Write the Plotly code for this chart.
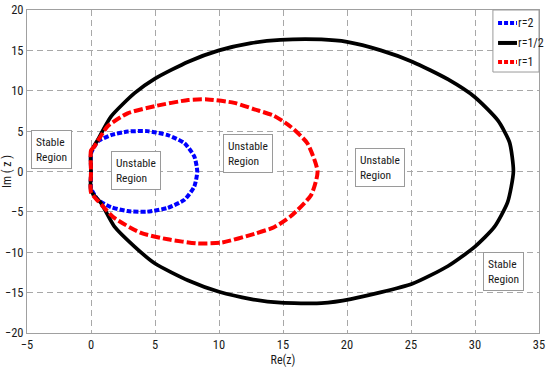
import plotly.graph_objects as go

# r=1/2 (black, solid)
half_x = [0, 0, 0.52, 1.56, 3.4, 5.0, 7.6, 10.0, 12.5, 14.8, 18.0, 20.0, 22.65, 25.1, 27.9, 30.0, 31.8, 32.7, 33.0,
          32.55, 31.5, 30.0, 27.9, 25.1, 20.3, 18.0, 14.8, 12.5, 10.0, 7.6, 5.0, 3.4, 1.82, 0.78, 0, 0]
half_y = [0, 2.4, 3.9, 6.8, 9.7, 11.5, 13.6, 15.0, 15.9, 16.3, 16.35, 16.05, 15.0, 13.6, 11.4, 9.2, 6.3, 3.6, 0.0,
          -3.8, -6.9, -9.3, -11.7, -13.9, -15.8, -16.3, -16.25, -15.8, -14.9, -13.5, -11.4, -9.3, -6.8, -3.9, -2.4, 0]

# r=1 (red, dashed)
one_x = [0, 0, 0.26, 1.3, 2.86, 5.0, 7.6, 9.1, 11.2, 12.76, 14.3, 15.6, 16.9, 17.7,
         17.2, 15.6, 14.3, 12.8, 10.2, 8.3, 6.0, 3.9, 1.82, 0.52, 0, 0]
one_y = [0, 2.6, 3.1, 5.6, 7.2, 8.1, 8.85, 8.93, 8.5, 7.7, 6.9, 5.55, 3.5, 0.0,
         -2.9, -5.55, -6.9, -7.7, -8.8, -8.9, -8.4, -7.6, -5.75, -3.6, -2.6, 0]

# r=2 (blue, dashed)
two_x = [0, 0, 0.13, 0.52, 1.56, 2.86, 4.4, 6.0, 7.3, 8.07, 8.3,
         8.07, 7.3, 6.0, 4.4, 2.86, 1.56, 0.52, 0.13, 0, 0]
two_y = [0, 2.2, 2.7, 3.7, 4.5, 4.94, 5.0, 4.5, 3.5, 1.85, 0.0,
         -1.85, -3.5, -4.5, -4.97, -4.9, -4.4, -3.5, -2.5, -2.2, 0]

series_names = ["r=2", "r=1/2", "r=1"]
series_colors = ["#0000ff", "#000000", "#ff0000"]
series_dash = ["5px,2px", "solid", "9px,3px"]

x_ticks = [-5, 0, 5, 10, 15, 20, 25, 30, 35]
y_ticks = [-20, -15, -10, -5, 0, 5, 10, 15, 20]

labels = ["Stable<br>Region", "Unstable<br>Region", "Unstable<br>Region", "Unstable<br>Region", "Stable<br>Region"]
label_x = [-3.05, 3.55, 12.3, 22.6, 32.2]
label_y = [2.7, 0.1, 2.2, 0.45, -12.4]

FONT = "Roboto Condensed, Liberation Sans Narrow, sans-serif"
TXT = "#1a1a1a"

fig = go.Figure()
data = [(two_x, two_y, 4), (half_x, half_y, 3.7), (one_x, one_y, 4)]
for (xs, ys, w), nm, col, ds in zip(data, series_names, series_colors, series_dash):
    fig.add_trace(go.Scatter(x=xs, y=ys, mode="lines", name=nm, showlegend=False,
                             line=dict(color=col, width=w, dash=ds, shape="spline", smoothing=0.6)))

for t, xx, yy in zip(labels, label_x, label_y):
    fig.add_annotation(x=xx, y=yy, text=t, showarrow=False, align="left",
                       font=dict(family=FONT, size=11.5, color=TXT),
                       bgcolor="white", bordercolor="#9a9a9a", borderwidth=1, borderpad=4)

# legend box (drawn in paper space, top-right of the plot)
fig.add_shape(type="rect", xref="paper", yref="paper", x0=0.910, x1=1.0, y0=0.808, y1=1.0,
              line=dict(color="#9a9a9a", width=1), fillcolor="white", layer="above")
entry_y = [0.960, 0.898, 0.839]
for nm, col, ds, ey in zip(series_names, series_colors, series_dash, entry_y):
    fig.add_shape(type="line", xref="paper", yref="paper", x0=0.920, x1=0.957, y0=ey, y1=ey,
                  line=dict(color=col, width=4, dash=("4px,2px" if ds != "solid" else "solid")), layer="above")
    fig.add_annotation(xref="paper", yref="paper", x=0.957, y=ey, text=nm, showarrow=False,
                       xanchor="left", yanchor="middle", borderpad=0,
                       font=dict(family=FONT, size=12, color=TXT))

axis_common = dict(showgrid=True, gridcolor="#a8a8a8", griddash="6px,4px", gridwidth=1,
                   zeroline=False, showline=True, linecolor="#a0a0a0", linewidth=1, mirror=True,
                   ticks="", automargin=False, ticklabeloverflow="allow",
                   tickfont=dict(family=FONT, size=12.5, color=TXT))

fig.update_xaxes(range=[-5, 35], tickvals=x_ticks, title=dict(text="Re(z)", standoff=4,
                 font=dict(family=FONT, size=12, color=TXT)), **axis_common)
fig.update_yaxes(range=[-20, 20], tickvals=y_ticks, title=dict(text="Im ( z )",
                 font=dict(family=FONT, size=12, color=TXT)), **axis_common)

fig.update_layout(
    width=550, height=376,
    margin=dict(l=27, r=11, t=10, b=43),
    plot_bgcolor="white", paper_bgcolor="white",
    showlegend=False,
)

# remove the page's default 8px body margin so the figure fills the window exactly
fig.write_html("out.html", config={"displayModeBar": False},
               post_script="document.body.style.margin='0';")
